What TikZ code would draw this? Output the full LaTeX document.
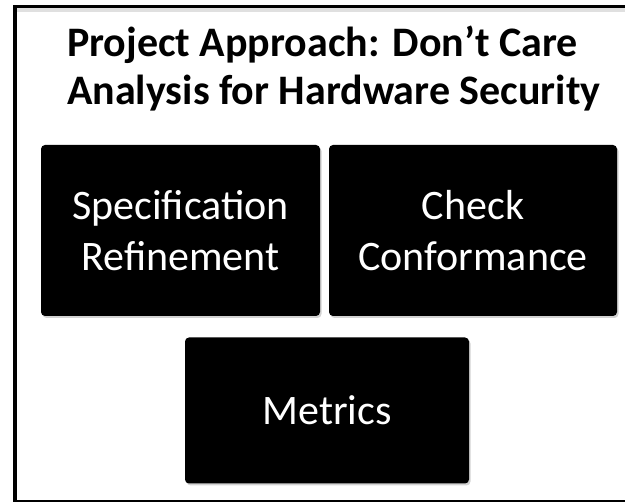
\documentclass[tikz,border=0pt]{standalone}
\usepackage{fontspec}
\setmainfont{Carlito}
\usetikzlibrary{shadows}
\tikzset{box/.style={rectangle,rounded corners=4pt,fill=black,text=white,align=center,
    font=\fontsize{42}{51}\selectfont,
    drop shadow={opacity=0.35,shadow xshift=1.5pt,shadow yshift=-2pt}},
  title/.style={align=left,inner sep=0pt,font=\bfseries\fontsize{42}{48}\selectfont}}

\begin{document}
\begin{tikzpicture}[x=1pt,y=-1pt]
      \useasboundingbox (0,0) rectangle (625,502);
      \clip (0,0) rectangle (625,502);
      \draw[line width=3.5pt] (15,6.5) rectangle (640,501.5);
      \draw[black!12,line width=4pt] (17,10.5) -- (640,10.5);

      \node[title,anchor=base west] (T) at (67,105) {Project Approach: Don’t Care\\Analysis for Hardware Security};

      \node[box,minimum width=279pt,minimum height=171pt] (S) at (180.5,230.5) {Specification\\Refinement};
      \node[box,minimum width=288pt,minimum height=171pt] (C) at (473,230.5) {Check\\Conformance};
      \node[box,minimum width=284pt,minimum height=146pt] (M) at (327,410.5) {Metrics};
    \end{tikzpicture}
\end{document}
